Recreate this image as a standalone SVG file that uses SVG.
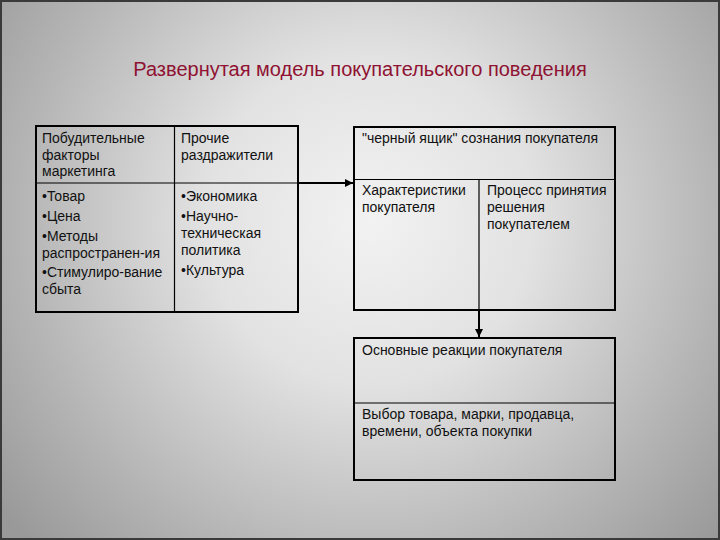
<svg xmlns="http://www.w3.org/2000/svg" width="720" height="540" viewBox="0 0 720 540">
  <defs>
    <radialGradient id="bg" cx="370" cy="220" r="470" gradientUnits="userSpaceOnUse">
      <stop offset="0" stop-color="#f2f2f2"/>
      <stop offset="0.35" stop-color="#e2e2e2"/>
      <stop offset="0.75" stop-color="#b4b4b4"/>
      <stop offset="1" stop-color="#999999"/>
    </radialGradient>
    <marker id="arr" viewBox="0 0 10 10" refX="10" refY="5" markerWidth="4" markerHeight="4" orient="auto" markerUnits="strokeWidth">
      <path d="M0,0 L10,5 L0,10 z" fill="#000"/>
    </marker>
    <style>
      .t { font-family: "Liberation Sans", Arial, sans-serif; font-size: 14px; fill: #111; }
      .title { font-family: "Liberation Sans", Arial, sans-serif; font-size: 20px; fill: #8f1232; }
      .box { fill: none; stroke: #000; stroke-width: 2; }
      .div { fill: none; stroke: #000; stroke-width: 1.2; }
      .con { fill: none; stroke: #000; stroke-width: 2; }
    </style>
  </defs>
  <rect x="0" y="0" width="720" height="540" fill="url(#bg)"/>
  <rect x="1" y="1" width="718" height="538" fill="none" stroke="#3a3a3a" stroke-width="2"/>

  <text class="title" x="360" y="76" text-anchor="middle">Развернутая модель покупательского поведения</text>

  <g id="stimuli">
    <rect class="box" x="36" y="126" width="262" height="186"/>
    <line class="div" x1="36" y1="183" x2="298" y2="183"/>
    <line class="div" x1="174.5" y1="126" x2="174.5" y2="312"/>
    <text class="t" x="42" y="143">Побудительные</text>
    <text class="t" x="42" y="159.5">факторы</text>
    <text class="t" x="42" y="176">маркетинга</text>
    <text class="t" x="181" y="143">Прочие</text>
    <text class="t" x="181" y="159.5">раздражители</text>
    <text class="t" x="42" y="201">•Товар</text>
    <text class="t" x="42" y="221">•Цена</text>
    <text class="t" x="42" y="240.5">•Методы</text>
    <text class="t" x="42" y="257.5">распространен-ия</text>
    <text class="t" x="42" y="277">•Стимулиро-вание</text>
    <text class="t" x="42" y="294">сбыта</text>
    <text class="t" x="181" y="201">•Экономика</text>
    <text class="t" x="181" y="221">•Научно-</text>
    <text class="t" x="181" y="238">техническая</text>
    <text class="t" x="181" y="255">политика</text>
    <text class="t" x="181" y="275">•Культура</text>
  </g>

  <g id="blackbox">
    <rect class="box" x="354" y="127" width="261" height="183"/>
    <line class="div" x1="354" y1="179.5" x2="615" y2="179.5"/>
    <line class="div" x1="479" y1="179.5" x2="479" y2="310"/>
    <text class="t" x="362" y="143">"черный ящик" сознания покупателя</text>
    <text class="t" x="362" y="195">Характеристики</text>
    <text class="t" x="362" y="212">покупателя</text>
    <text class="t" x="487" y="195">Процесс принятия</text>
    <text class="t" x="487" y="212">решения</text>
    <text class="t" x="487" y="229">покупателем</text>
  </g>

  <g id="responses">
    <rect class="box" x="354" y="338" width="261" height="142"/>
    <line class="div" x1="354" y1="403" x2="615" y2="403"/>
    <text class="t" x="362" y="355">Основные реакции покупателя</text>
    <text class="t" x="362" y="419">Выбор товара, марки, продавца,</text>
    <text class="t" x="362" y="435.5">времени, объекта покупки</text>
  </g>

  <g id="connectors">
    <line class="con" x1="298" y1="183" x2="353" y2="183" marker-end="url(#arr)"/>
    <line class="con" x1="479" y1="310" x2="479" y2="337" marker-end="url(#arr)"/>
  </g>
</svg>
